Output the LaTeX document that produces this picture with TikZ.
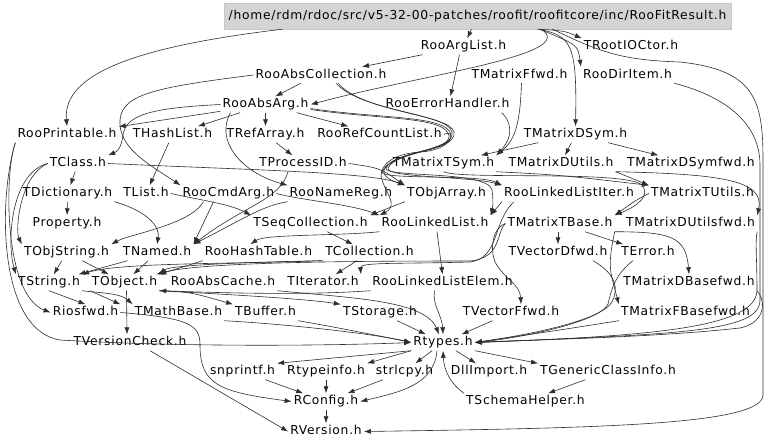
\documentclass[tikz,border=0pt]{standalone}
\usepackage{fontspec}
\newfontfamily\lblfont[LetterSpace=6]{DejaVu Sans}
\usetikzlibrary{arrows.meta}
\tikzset{
  lb/.style={inner sep=2pt, text height=9pt, text depth=3pt, font=\lblfont\fontsize{12.3pt}{14pt}\selectfont},
  e/.style={draw=black!82, line width=0.6pt, -{Latex[length=7pt,width=5pt]}},
  rootbox/.style={lb, fill=black!17, draw=black!22, minimum width=507pt, minimum height=26pt, inner sep=0pt}
}
\begin{document}
\begin{tikzpicture}[x=1pt,y=-1pt]
\useasboundingbox[fill=white] (0,0) rectangle (768,445);
% nodes
\node[rootbox] (root) at (477.5,16) {/home/rdm/rdoc/src/v5-32-00-patches/roofit/roofitcore/inc/RooFitResult.h};
\node[lb] (RooArgList) at (463.5,46.5) {RooArgList.h};
\node[lb] (TRootIOCtor) at (631,46.5) {TRootIOCtor.h};
\node[lb] (RooAbsCollection) at (321,75) {RooAbsCollection.h};
\node[lb] (TMatrixFfwd) at (519.5,75) {TMatrixFfwd.h};
\node[lb] (RooDirItem) at (627.5,75) {RooDirItem.h};
\node[lb] (RooAbsArg) at (265.5,104.5) {RooAbsArg.h};
\node[lb] (RooErrorHandler) at (447.5,104.5) {RooErrorHandler.h};
\node[lb] (RooPrintable) at (67,134.5) {RooPrintable.h};
\node[lb] (THashList) at (172.5,134.5) {THashList.h};
\node[lb] (TRefArray) at (265.5,134.5) {TRefArray.h};
\node[lb] (RooRefCountList) at (379.5,134.5) {RooRefCountList.h};
\node[lb] (TMatrixDSym) at (575.5,134.5) {TMatrixDSym.h};
\node[lb] (TClass) at (78,163.5) {TClass.h};
\node[lb] (TProcessID) at (303,163.5) {TProcessID.h};
\node[lb] (TMatrixTSym) at (443.5,163.5) {TMatrixTSym.h};
\node[lb] (TMatrixDUtils) at (561,163.5) {TMatrixDUtils.h};
\node[lb] (TMatrixDSymfwd) at (691,163.5) {TMatrixDSymfwd.h};
\node[lb] (TDictionary) at (67.5,193.5) {TDictionary.h};
\node[lb] (TList) at (146,193.5) {TList.h};
\node[lb] (RooCmdArg) at (228.5,193.5) {RooCmdArg.h};
\node[lb] (RooNameReg) at (341,193.5) {RooNameReg.h};
\node[lb] (TObjArray) at (446.5,193.5) {TObjArray.h};
\node[lb] (RooLinkedListIter) at (569,193.5) {RooLinkedListIter.h};
\node[lb] (TMatrixTUtils) at (702.5,193.5) {TMatrixTUtils.h};
\node[lb] (Property) at (67,223.5) {Property.h};
\node[lb] (TSeqCollection) at (310.5,223.5) {TSeqCollection.h};
\node[lb] (RooLinkedList) at (435,223.5) {RooLinkedList.h};
\node[lb] (TMatrixTBase) at (560,223.5) {TMatrixTBase.h};
\node[lb] (TMatrixDUtilsfwd) at (690.5,223.5) {TMatrixDUtilsfwd.h};
\node[lb] (TObjString) at (66.5,252.5) {TObjString.h};
\node[lb] (TNamed) at (157,252.5) {TNamed.h};
\node[lb] (RooHashTable) at (258.5,252.5) {RooHashTable.h};
\node[lb] (TCollection) at (369.5,252.5) {TCollection.h};
\node[lb] (TVectorDfwd) at (558,252.5) {TVectorDfwd.h};
\node[lb] (TError) at (648,252.5) {TError.h};
\node[lb] (TString) at (49,282.5) {TString.h};
\node[lb] (TObject) at (124.5,282.5) {TObject.h};
\node[lb] (RooAbsCache) at (223,282.5) {RooAbsCache.h};
\node[lb] (TIterator) at (323,282.5) {TIterator.h};
\node[lb] (RooLinkedListElem) at (442.5,282.5) {RooLinkedListElem.h};
\node[lb] (TMatrixDBasefwd) at (689,282.5) {TMatrixDBasefwd.h};
\node[lb] (Riosfwd) at (85.5,312.5) {Riosfwd.h};
\node[lb] (TMathBase) at (178.5,312.5) {TMathBase.h};
\node[lb] (TBuffer) at (265.5,312.5) {TBuffer.h};
\node[lb] (TStorage) at (380,312.5) {TStorage.h};
\node[lb] (TVectorFfwd) at (511,312.5) {TVectorFfwd.h};
\node[lb] (TMatrixFBasefwd) at (685.5,312.5) {TMatrixFBasefwd.h};
\node[lb] (TVersionCheck) at (130,342.5) {TVersionCheck.h};
\node[lb] (Rtypes) at (443,342.5) {Rtypes.h};
\node[lb] (snprintf) at (242.5,371.5) {snprintf.h};
\node[lb] (Rtypeinfo) at (326,371.5) {Rtypeinfo.h};
\node[lb] (strlcpy) at (404.5,371.5) {strlcpy.h};
\node[lb] (DllImport) at (489,371.5) {DllImport.h};
\node[lb] (TGenericClassInfo) at (608,371.5) {TGenericClassInfo.h};
\node[lb] (RConfig) at (326,401.5) {RConfig.h};
\node[lb] (TSchemaHelper) at (525.5,401.5) {TSchemaHelper.h};
\node[lb] (RVersion) at (326,431.5) {RVersion.h};
% root edges
\draw[e] ([xshift=-195pt]root.south) .. controls (150,45) and (62,70) .. (RooPrintable.north);
\draw[e] (root) -- (RooArgList);
\draw[e] ([xshift=62pt]root.south) .. controls (565,31) .. (TRootIOCtor.north west);
\draw[e] ([xshift=60pt]root.south) .. controls (572,35) and (577,45) .. (TMatrixDSym.north);
\draw[e] ([xshift=62pt]root.south) .. controls (578,45) .. (RooDirItem.north west);
\draw[e] ([xshift=64pt]root.south) .. controls (580,55) and (420,75) .. (RooAbsArg.east);
\draw[e] ([xshift=75pt]root.south) .. controls (600,52) and (620,60) .. (680,62) .. controls (755,70) and (763,100) .. (763,160) -- (763,395) .. controls (763,425) and (600,428) .. (RVersion.east);
% RooArgList
\draw[e] (RooArgList) -- (RooAbsCollection);
\draw[e] ([xshift=-4pt]RooArgList.south) -- ([xshift=3pt]RooErrorHandler.north);
% RooAbsCollection
\draw[e] ([xshift=-20pt]RooAbsCollection.south) -- ([xshift=10pt]RooAbsArg.north);
\draw[e] (RooAbsCollection.west) .. controls (150,88) and (118,95) .. (120,125) .. controls (122,150) and (150,165) .. (RooCmdArg.north west);
\draw[e] ([xshift=15pt]RooAbsCollection.south) .. controls (362,112) and (448,113) .. (452,132) .. controls (455,152) and (395,150) .. (386,168) .. controls (383,178) and (488,170) .. (492,190) .. controls (494,205) and (492,210) .. (RooLinkedList.north east);
\draw[e] ([xshift=17pt]RooAbsCollection.south) .. controls (364,113) and (450,114) .. (454,132) .. controls (457,152) and (397,150) .. (388,168) .. controls (385,178) and (470,176) .. (RooLinkedListIter.north west);
% RooAbsArg
\draw[e] (RooAbsArg) -- (RooPrintable);
\draw[e] (RooAbsArg) -- (THashList);
\draw[e] (RooAbsArg) -- (TRefArray);
\draw[e] (RooAbsArg) -- (RooRefCountList);
\draw[e] (RooAbsArg.west) .. controls (150,108) and (126,115) .. (123,135) .. controls (121,150) and (116,152) .. (TClass.north east);
\draw[e] ([xshift=-35pt]RooAbsArg.south) .. controls (215,140) and (240,172) .. (RooNameReg.north west);
\draw[e] ([yshift=-4pt]RooAbsArg.east) .. controls (380,119) and (448,115) .. (451,135) .. controls (453,152) and (392,150) .. (384,170) .. controls (382,178) and (396,182) .. (TObjArray.north west);
\draw[e] ([yshift=-5pt]RooAbsArg.east) .. controls (382,120) and (446,116) .. (449,136) .. controls (451,151) and (390,152) .. (382,172) .. controls (380,180) and (480,174) .. (RooLinkedListIter.north west);
\draw[e] (RooRefCountList.east) .. controls (456,128) and (455,150) .. (420,152) .. controls (392,154) and (381,165) .. (381,176) .. controls (383,190) and (400,205) .. (RooLinkedList.north west);
% TRefArray / TProcessID
\draw[e] (TRefArray) -- (TProcessID);
\draw[e] ([xshift=-15pt]TProcessID.south) .. controls (280,200) and (245,205) .. (TNamed.north east);
\draw[e] (TProcessID.east) .. controls (380,168) .. (TObjArray.north west);
% matrix upper
\draw[e] (TMatrixDSym) -- (TMatrixTSym);
\draw[e] (TMatrixDSym) -- (TMatrixDUtils);
\draw[e] (TMatrixDSym) -- (TMatrixDSymfwd);
\draw[e] ([xshift=2pt]TMatrixFfwd.south) .. controls (520,125) and (515,140) .. (TMatrixTSym.north east);
\draw[e] ([xshift=-10pt]RooErrorHandler.south east) .. controls (510,120) and (515,135) .. (TMatrixTSym.north east);
\draw[e] (TMatrixTSym.south) .. controls (460,180) and (625,170) .. (642,185) .. controls (650,195) and (640,205) .. (TMatrixTBase.north east);
\draw[e] (TMatrixTSym.south east) .. controls (560,175) .. (TMatrixTUtils.north west);
\draw[e] (TMatrixDUtils.south east) -- (TMatrixTUtils.north west);
\draw[e] (TMatrixDUtils.south east) .. controls (720,174) and (765,180) .. (TMatrixDUtilsfwd.north east);
\draw[e] (TMatrixTUtils.west) .. controls (635,200) and (625,208) .. (TMatrixTBase.north east);
% TClass
\draw[e] (TClass) -- (TDictionary);
\draw[e] (TClass.west) .. controls (20,175) and (15,230) .. (TObjString.north west);
\draw[e] (TClass.west) .. controls (12,172) and (6,240) .. (TString.north west);
\draw[e] (TClass.east) .. controls (250,170) and (370,172) .. (TObjArray.north west);
\draw[e] (TDictionary) -- (Property);
\draw[e] (TDictionary.south east) .. controls (150,212) and (160,228) .. (TNamed.north);
% RooPrintable left side
\draw[e] (RooPrintable.south west) .. controls (4,175) and (4,295) .. (Riosfwd.west);
\draw[e] (RooPrintable.south west) .. controls (-2,200) and (-2,330) .. (60,340) .. controls (200,348) and (350,345) .. (Rtypes.west);
% THashList / TList / RooCmdArg / RooNameReg
\draw[e] (THashList) -- (TList);
\draw[e] (TList.east) .. controls (200,200) and (230,204) .. (TSeqCollection.north west);
\draw[e] ([xshift=-15pt]RooCmdArg.south) -- (TNamed.north east);
\draw[e] ([xshift=-25pt]RooCmdArg.south) .. controls (190,225) and (130,234) .. (TObjString.north east);
\draw[e] (RooCmdArg.east) .. controls (300,200) and (350,204) .. (RooLinkedList.north west);
\draw[e] (RooNameReg.south west) .. controls (262,206) and (245,218) .. (TNamed.north east);
\draw[e] (TObjArray.south west) -- (TSeqCollection.north east);
% collections
\draw[e] (TSeqCollection) -- (TCollection);
\draw[e] (TCollection.south west) .. controls (250,262) and (170,265) .. (TObject.north east);
\draw[e] ([xshift=-3pt]TCollection.south west) .. controls (250,264) and (120,262) .. (TString.north east);
\draw[e] (TCollection) -- (TIterator);
\draw[e] (TObjString) -- (TString);
\draw[e] (TObjString) -- (TObject);
\draw[e] (TNamed) -- (TObject);
\draw[e] (TNamed) -- (TString);
\draw[e] (RooHashTable.south west) -- (TObject.north east);
% RooLinkedList family
\draw[e] ([xshift=2pt]RooLinkedList.south) -- (RooLinkedListElem.north);
\draw[e] (RooLinkedList.south west) .. controls (340,236) and (265,234) .. ([xshift=-8pt]RooHashTable.north);
\draw[e] (RooLinkedListIter.south west) -- (RooLinkedList.north east);
\draw[e] ([xshift=-55pt]RooLinkedListIter.south) .. controls (492,222) and (500,258) .. (470,262) .. controls (400,264) and (360,262) .. (TIterator.north east);
\draw[e] (RooLinkedListElem.south west) .. controls (300,296) and (200,292) .. (TObject.south east);
\draw[e] ([xshift=-8pt]RooLinkedListElem.south) .. controls (432,305) and (442,315) .. (Rtypes.north);
\draw[e] (RooAbsCache.south east) .. controls (350,298) and (425,300) .. ([xshift=-4pt]Rtypes.north);
% TMatrixTBase
\draw[e] ([xshift=-2pt]TMatrixTBase.south) -- (TVectorDfwd.north);
\draw[e] (TMatrixTBase) -- (TError);
\draw[e] (TMatrixTBase.south east) .. controls (670,232) and (686,236) .. (TMatrixDBasefwd.north);
\draw[e] (TMatrixTBase.south east) .. controls (612,245) and (608,262) .. (612,278) .. controls (615,290) .. (TMatrixFBasefwd.north west);
\draw[e] (TMatrixTBase.west) .. controls (492,228) and (490,250) .. (495,262) .. controls (505,280) and (520,284) .. ([xshift=10pt]TVectorFfwd.north);
\draw[e] (TMatrixTBase.west) .. controls (496,232) and (502,258) .. (470,261) .. controls (350,261) and (200,262) .. ([xshift=-3pt]TObject.north east);
% lower
\draw[e] (TObject.south west) -- (Riosfwd.north east);
\draw[e] (TString.south) -- (Riosfwd.north);
\draw[e] (TString.south east) .. controls (100,293) and (120,293) .. (TMathBase.north west);
\draw[e] ([xshift=2pt]TObject.south) -- ([xshift=-3pt]TVersionCheck.north);
\draw[e] (TObject.south east) .. controls (200,293) and (300,298) .. (TStorage.north west);
\draw[e] (TObject.south east) .. controls (190,292) .. (TBuffer.north west);
\draw[e] (Riosfwd.east) .. controls (190,318) and (200,325) .. (200,345) .. controls (200,385) and (220,392) .. (RConfig.west);
\draw[e] ([xshift=20pt]TVersionCheck.south) -- (RVersion.west);
\draw[e] (TMathBase.south east) .. controls (300,325) and (380,335) .. (Rtypes.west);
\draw[e] (TBuffer.south east) .. controls (330,326) and (390,338) .. (Rtypes.west);
\draw[e] (TStorage) -- (Rtypes);
\draw[e] (TVectorFfwd) -- (Rtypes);
\draw[e] (TMatrixFBasefwd.south west) .. controls (560,330) .. (Rtypes.east);
\draw[e] (TMatrixDBasefwd.south east) .. controls (765,298) and (768,322) .. (740,328) .. controls (650,338) and (520,340) .. (Rtypes.east);
\draw[e] ([xshift=35pt]TVectorDfwd.south) .. controls (618,275) and (618,290) .. (612,302) .. controls (600,322) and (520,336) .. (Rtypes.east);
\draw[e] ([xshift=-15pt]TError.south) .. controls (614,275) and (611,292) .. (608,304) .. controls (600,322) and (520,338) .. (Rtypes.east);
\draw[e] (RooDirItem.south east) .. controls (720,95) and (760,120) .. (760,165) -- (760,300) .. controls (760,332) and (680,334) .. (Rtypes.east);
\draw[e] (TMatrixDUtilsfwd.south east) .. controls (755,240) and (757,260) .. (757,290) .. controls (757,328) and (650,336) .. (Rtypes.east);
% Rtypes
\draw[e] (Rtypes.south west) -- (snprintf.north east);
\draw[e] (Rtypes.south west) -- (Rtypeinfo.north east);
\draw[e] (Rtypes) -- (strlcpy);
\draw[e] (Rtypes) -- (DllImport);
\draw[e] (Rtypes.south east) -- (TGenericClassInfo.north west);
\draw[e] ([xshift=-6pt]Rtypes.south) .. controls (434,385) and (400,392) .. (RConfig.east);
\draw[e] (TSchemaHelper.north west) .. controls (452,385) and (444,372) .. (Rtypes.south);
\draw[e] (snprintf) -- (RConfig);
\draw[e] (Rtypeinfo) -- (RConfig);
\draw[e] (strlcpy) -- (RConfig);
\draw[e] (RConfig) -- (RVersion);
\draw[e] (TGenericClassInfo) -- (TSchemaHelper);
\end{tikzpicture}
\end{document}
